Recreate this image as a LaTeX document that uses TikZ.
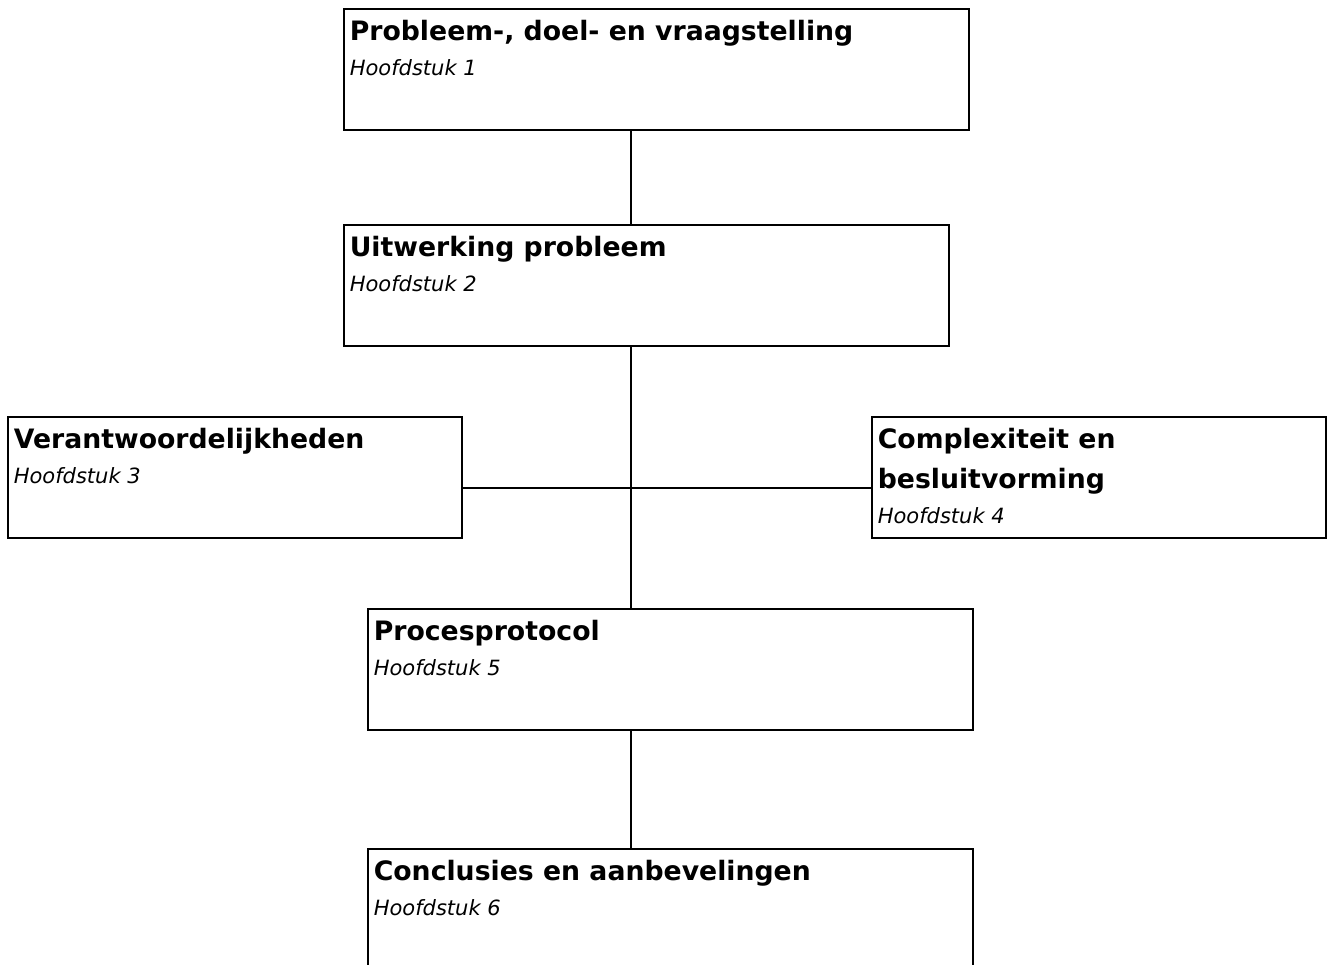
\documentclass[tikz,border=0pt]{standalone}
\usepackage{fontspec}
\setmainfont{DejaVu Sans}
\usetikzlibrary{positioning}

% box contents: width, bold title, italic chapter line
\newcommand{\blokinhoud}[3]{%
  \parbox[c][121pt][t]{#1}{\leftskip=6pt\rightskip=0pt plus 1fil
    \fontsize{26.7}{40}\selectfont\bfseries\rule{0pt}{32pt}#2\par
    \fontsize{21}{35}\selectfont\mdseries\itshape #3\par}}

\begin{document}
\begin{tikzpicture}[
        x=1pt, y=-1pt,
        blok/.style={draw=black, line width=1.6pt, inner sep=0pt, anchor=north west},
        lijn/.style={draw=black, line width=1.2pt}
    ]
        \clip (0,0) rectangle (1327,964);

        \node[blok] (probleem) at (343,8) {\blokinhoud{625pt}{Probleem-, doel- en vraagstelling}{Hoofdstuk 1}};
        \node[blok] (uitwerking) at (343,224) {\blokinhoud{605pt}{Uitwerking probleem}{Hoofdstuk 2}};
        \node[blok] (verantw) at (7,416) {\blokinhoud{454pt}{Verantwoordelijkheden}{Hoofdstuk 3}};
        \node[blok] (complex) at (871,416) {\blokinhoud{454pt}{Complexiteit en\newline besluitvorming}{Hoofdstuk 4}};
        \node[blok] (protocol) at (367,608) {\blokinhoud{605pt}{Procesprotocol}{Hoofdstuk 5}};
        \node[blok] (conclusies) at (367,848) {\blokinhoud{605pt}{Conclusies en aanbevelingen}{Hoofdstuk 6}};

        \coordinate (as) at (631,0);
        \coordinate (kruis) at (631,488);

        \draw[lijn] (probleem.south -| as) -- (uitwerking.north -| as);
        \draw[lijn] (uitwerking.south -| as) -- (protocol.north -| as);
        \draw[lijn] (verantw.east |- kruis) -- (complex.west |- kruis);
        \draw[lijn] (protocol.south -| as) -- (conclusies.north -| as);
    \end{tikzpicture}
\end{document}
